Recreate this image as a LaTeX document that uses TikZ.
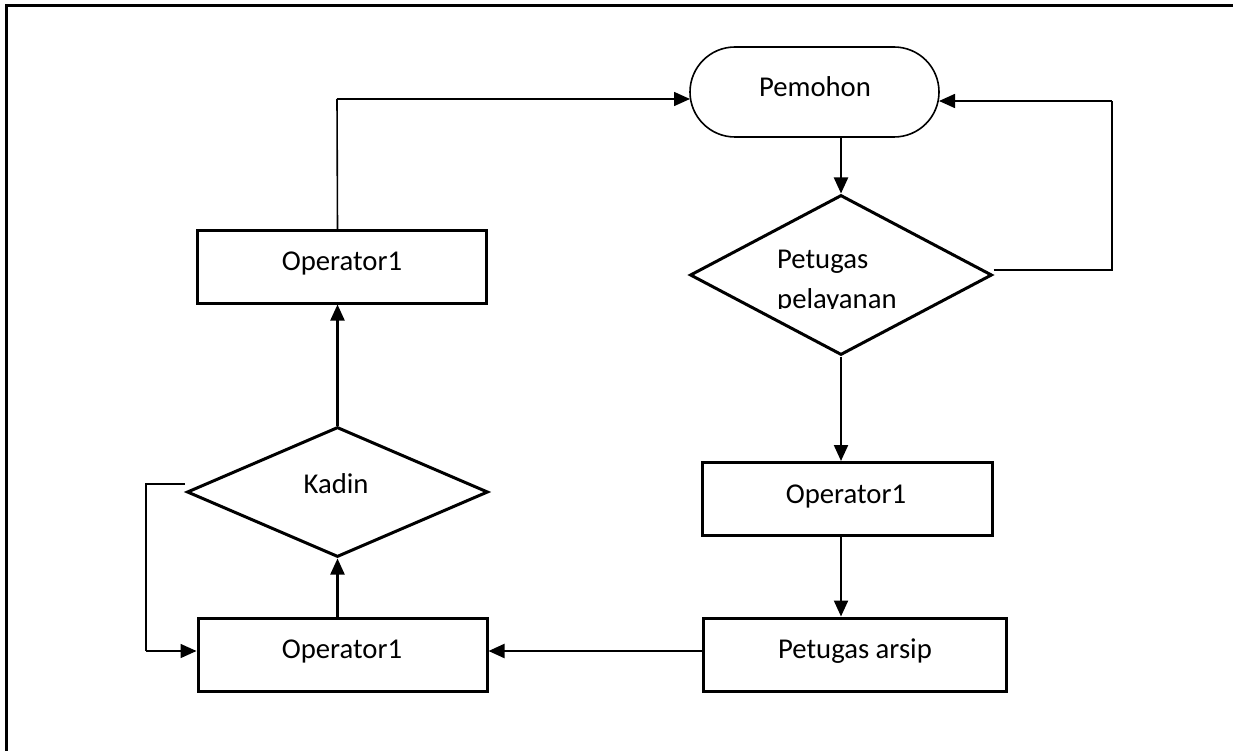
\documentclass[tikz,border=0pt]{standalone}
\usepackage{fontspec}
\setmainfont{Carlito}
\usetikzlibrary{shapes.geometric,shapes.misc,arrows.meta}
\begin{document}
\begin{tikzpicture}[x=1pt,y=-1pt,
  boxnode/.style={draw, line width=3pt, inner sep=0pt, minimum height=73pt},
  dia/.style={diamond, draw, line width=3pt, inner sep=0pt},
  pemshape/.style={rounded rectangle, draw, line width=1.6pt, inner sep=0pt},
  lbl/.style={anchor=base, inner sep=0pt, font=\fontsize{28.7}{34}\selectfont},
  lblw/.style={anchor=base west, inner sep=0pt, font=\fontsize{28.7}{34}\selectfont},
  arr/.style={line width=2.2pt, -{Triangle[length=16pt,width=14pt]}},
  thinarr/.style={line width=1.6pt, -{Triangle[length=16pt,width=14pt]}},
  thinline/.style={line width=1.6pt}
]
\useasboundingbox (0,0) rectangle (1233,751);
% outer frame (only top and left visible)
\draw[line width=3pt] (6,751) -- (6,6) -- (1233,6);

% shapes
\node[pemshape, minimum width=249pt, minimum height=90pt] (pem) at (814.5,92) {};
\node[dia, minimum width=302pt, minimum height=160pt] (pel) at (841,275) {};
\node[boxnode, minimum width=290pt] (opr) at (847,499) {};
\node[boxnode, minimum width=303pt] (ars) at (854.5,654.5) {};
\node[boxnode, minimum width=289pt] (opb) at (342.5,655) {};
\node[dia, minimum width=301pt, minimum height=130pt] (kad) at (337.5,492) {};
\node[boxnode, minimum width=289pt, minimum height=72pt] (opt) at (341.5,267) {};

% labels
\node[lbl] (tpem) at (815,97) {Pemohon};
\node[lblw] (tpel1) at (777,268) {Petugas};
\begin{scope}
  \clip (700,200) rectangle (990,308.5);
  \node[lblw] (tpel2) at (777,308) {pelayanan};
\end{scope}
\node[lbl] (topr) at (846,503) {Operator1};
\node[lbl] (tars) at (855,658) {Petugas arsip};
\node[lbl] (topb) at (342,658) {Operator1};
\node[lbl] (tkad) at (336,493) {Kadin};
\node[lbl] (topt) at (342,270) {Operator1};

% helper coordinates
\coordinate (pemb) at (841,137);
\coordinate (r1) at (1112,270);
\coordinate (r2) at (1112,101);
\coordinate (pemr) at (939,101);
\coordinate (l1) at (337,99);
\coordinate (pemlft) at (690,99);
\coordinate (kadl) at (185,484);
\coordinate (k1) at (146,484);
\coordinate (k2) at (146,651);

% connectors
\draw[arr] (pemb) -- (pel.north);
\draw[thinline] (pel.east |- r1) -- (r1) -- (r2);
\draw[thinarr] (r2) -- (pemr);
\draw[arr] (pel.south) -- (pel.south |- opr.north);
\draw[arr] (pel.south |- opr.south) -- (pel.south |- ars.north);
\draw[arr] (ars.west |- 0,651) -- (opb.east |- 0,651);
\draw[arr] (kad.south |- opb.north) -- (kad.south);
\draw[thinline] (kadl) -- (k1) -- (k2);
\draw[thinarr] (k2) -- (opb.west |- k2);
\draw[arr] (kad.north) -- (kad.north |- opt.south);
\draw[thinline] (kad.north |- opt.north) -- (l1);
\draw[thinarr] (l1) -- (pemlft);
\end{tikzpicture}
\end{document}
